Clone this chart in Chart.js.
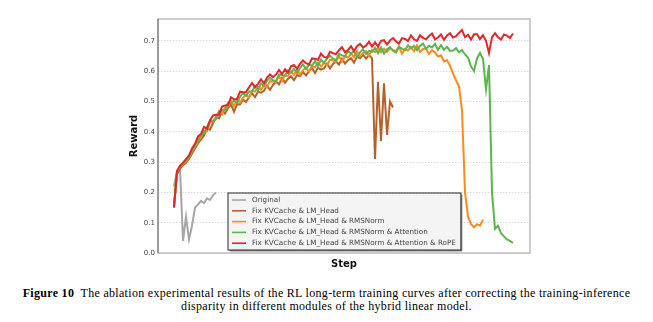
<!DOCTYPE html>
<html lang="en">
  <head>
    <meta charset="UTF-8">
    <title>Ablation: RL long-term training curves</title>
    <script src="https://cdn.jsdelivr.net/npm/chart.js"></script>
    <style>
      body { margin: 0; background: #fff; }
      #wrap { position: relative; width: 653px; height: 270px; }
      #caption {
        width: 653px; text-align: center;
        font-family: "Liberation Serif", serif; font-size: 12px; line-height: 13px;
        letter-spacing: 0.3px; color: #000; margin-top: 17px;
      }
    </style>
  </head>
  <body>
    <div id="wrap"><canvas id="myChart"></canvas></div>
    <div id="caption"><b>Figure 10</b>&nbsp; The ablation experimental results of the RL long-term training curves after correcting the training-inference<br>disparity in different modules of the hybrid linear model.</div>

    <script>
      // one logged point every STEP steps
      const STEP = 30;

      const seriesLabels = [
        "Original",
        "Fix KVCache & LM_Head",
        "Fix KVCache & LM_Head & RMSNorm",
        "Fix KVCache & LM_Head & RMSNorm & Attention",
        "Fix KVCache & LM_Head & RMSNorm & Attention & RoPE"
      ];
      const seriesColors = ["#a6a6a6", "#b5612e", "#ff8a1a", "#5ab64c", "#e2272b"];

      const original = [0.22, 0.27, 0.28, 0.04, 0.12, 0.045, 0.09, 0.15, 0.16, 0.172, 0.165, 0.18, 0.175, 0.19, 0.2];

      const fixLmHead = [
        0.15, 0.26, 0.278, 0.29, 0.298, 0.31, 0.328, 0.345, 0.362, 0.375,
        0.388, 0.411, 0.407, 0.429, 0.449, 0.444, 0.471, 0.46, 0.478, 0.49,
        0.466, 0.491, 0.49, 0.506, 0.498, 0.514, 0.527, 0.514, 0.532, 0.529,
        0.535, 0.553, 0.538, 0.555, 0.565, 0.556, 0.577, 0.562, 0.575, 0.583,
        0.57, 0.587, 0.583, 0.597, 0.586, 0.6, 0.61, 0.594, 0.611, 0.605,
        0.609, 0.625, 0.609, 0.624, 0.632, 0.622, 0.641, 0.625, 0.636, 0.643,
        0.628, 0.648, 0.642, 0.654, 0.641, 0.653, 0.642, 0.31, 0.565, 0.37,
        0.56, 0.39, 0.5, 0.48
      ];

      const fixRmsNorm = [
        0.155, 0.27, 0.283, 0.296, 0.302, 0.315, 0.335, 0.35, 0.37, 0.382,
        0.403, 0.401, 0.432, 0.436, 0.445, 0.468, 0.457, 0.48, 0.483, 0.501,
        0.484, 0.509, 0.496, 0.512, 0.523, 0.513, 0.534, 0.532, 0.549, 0.539,
        0.554, 0.547, 0.567, 0.566, 0.565, 0.584, 0.567, 0.586, 0.584, 0.598,
        0.588, 0.605, 0.589, 0.603, 0.611, 0.599, 0.617, 0.612, 0.628, 0.615,
        0.628, 0.619, 0.638, 0.635, 0.632, 0.65, 0.631, 0.649, 0.645, 0.658,
        0.646, 0.666, 0.648, 0.66, 0.666, 0.652, 0.669, 0.663, 0.677, 0.662,
        0.674, 0.664, 0.675, 0.67, 0.666, 0.682, 0.657, 0.673, 0.668, 0.679,
        0.666, 0.685, 0.664, 0.673, 0.675, 0.657, 0.669, 0.662, 0.648, 0.652,
        0.632, 0.636, 0.618, 0.592, 0.57, 0.55, 0.47, 0.2, 0.12, 0.095,
        0.085, 0.095, 0.09, 0.11
      ];

      const fixAttention = [
        0.16, 0.265, 0.285, 0.295, 0.305, 0.318, 0.338, 0.355, 0.375, 0.388,
        0.394, 0.416, 0.437, 0.434, 0.441, 0.467, 0.47, 0.472, 0.496, 0.493,
        0.503, 0.495, 0.515, 0.529, 0.518, 0.533, 0.533, 0.551, 0.536, 0.56,
        0.551, 0.568, 0.578, 0.57, 0.567, 0.589, 0.586, 0.584, 0.603, 0.596,
        0.607, 0.593, 0.61, 0.622, 0.608, 0.621, 0.618, 0.633, 0.617, 0.638,
        0.627, 0.642, 0.651, 0.641, 0.636, 0.657, 0.652, 0.649, 0.666, 0.658,
        0.667, 0.647, 0.662, 0.672, 0.656, 0.667, 0.663, 0.677, 0.659, 0.678,
        0.658, 0.672, 0.679, 0.667, 0.661, 0.68, 0.674, 0.669, 0.685, 0.675,
        0.683, 0.669, 0.683, 0.691, 0.674, 0.684, 0.678, 0.69, 0.67, 0.686,
        0.67, 0.68, 0.667, 0.668, 0.676, 0.662, 0.67, 0.655, 0.645, 0.615,
        0.6, 0.642, 0.66, 0.64, 0.54, 0.62, 0.2, 0.08, 0.09, 0.065,
        0.055, 0.045, 0.04, 0.033
      ];

      const fixRope = [
        0.15, 0.27, 0.288, 0.298, 0.31, 0.322, 0.345, 0.36, 0.385, 0.392,
        0.416, 0.41, 0.437, 0.454, 0.456, 0.456, 0.483, 0.487, 0.488, 0.514,
        0.507, 0.508, 0.532, 0.53, 0.531, 0.547, 0.561, 0.547, 0.558, 0.573,
        0.56, 0.579, 0.589, 0.58, 0.589, 0.604, 0.59, 0.606, 0.594, 0.616,
        0.62, 0.608, 0.624, 0.635, 0.626, 0.622, 0.642, 0.641, 0.637, 0.658,
        0.647, 0.644, 0.664, 0.659, 0.656, 0.669, 0.679, 0.662, 0.67, 0.682,
        0.666, 0.682, 0.69, 0.678, 0.684, 0.697, 0.681, 0.695, 0.681, 0.7,
        0.702, 0.688, 0.701, 0.709, 0.698, 0.691, 0.709, 0.706, 0.699, 0.718,
        0.705, 0.7, 0.718, 0.71, 0.705, 0.716, 0.724, 0.705, 0.711, 0.721,
        0.703, 0.718, 0.725, 0.711, 0.715, 0.726, 0.736, 0.712, 0.72, 0.704,
        0.722, 0.722, 0.706, 0.718, 0.7, 0.66, 0.712, 0.725, 0.712, 0.704,
        0.721, 0.717, 0.709, 0.724
      ];

      const yTicks = [0, 0.1, 0.2, 0.3, 0.4, 0.5, 0.6, 0.7];

      const allSeries = [original, fixLmHead, fixRmsNorm, fixAttention, fixRope];

      function toPoints(values) {
        return values.map((v, i) => ({ x: i * STEP, y: v }));
      }

      // light frame around the plot area, left spine a bit darker
      const frame = {
        id: "frame",
        beforeDatasetsDraw(chart) {
          const { ctx, chartArea: a } = chart;
          ctx.save();
          ctx.lineWidth = 1.5;
          ctx.strokeStyle = "#bdbdbd";
          ctx.strokeRect(a.left, a.top, a.right - a.left, a.bottom - a.top);
          ctx.strokeStyle = "#8a8a8a";
          ctx.beginPath();
          ctx.moveTo(a.left, a.top);
          ctx.lineTo(a.left, a.bottom);
          ctx.stroke();
          ctx.restore();
        }
      };

      // legend box inside the plot, lower left
      const legendBox = {
        id: "legendBox",
        afterDatasetsDraw(chart) {
          const { ctx, chartArea: a } = chart;
          const ds = chart.data.datasets;
          ctx.save();
          ctx.font = '7.2px "DejaVu Sans"';
          const rowH = 10.8;
          const textW = Math.max(...ds.map(d => ctx.measureText(d.label).width));
          const w = 24 + textW + 5;
          const h = ds.length * rowH + 3;
          const x0 = a.left + 70;
          const y0 = a.bottom - 3 - h;
          ctx.fillStyle = "rgba(60,60,60,0.6)";
          ctx.fillRect(x0 + 1.5, y0 + 1.5, w, h);
          ctx.fillStyle = "#f4f4f4";
          ctx.fillRect(x0, y0, w, h);
          ctx.strokeStyle = "#2a2a2a";
          ctx.lineWidth = 1;
          ctx.strokeRect(x0, y0, w, h);
          ds.forEach((d, i) => {
            const cy = y0 + 7 + i * rowH;
            ctx.strokeStyle = d.borderColor;
            ctx.lineWidth = 1.6;
            ctx.beginPath();
            ctx.moveTo(x0 + 4, cy);
            ctx.lineTo(x0 + 18, cy);
            ctx.stroke();
            ctx.fillStyle = "#444";
            ctx.textBaseline = "middle";
            ctx.fillText(d.label, x0 + 24, cy);
          });
          ctx.restore();
        }
      };

      const ctx = document.getElementById("myChart").getContext("2d");
      const chart = new Chart(ctx, {
        type: "line",
        data: {
          datasets: allSeries.map((vals, i) => ({
            label: seriesLabels[i],
            data: toPoints(vals),
            borderColor: seriesColors[i],
            borderWidth: 2,
            pointRadius: 0,
            tension: 0,
            fill: false,
            // red on top, then green, orange, brown, gray
            order: allSeries.length - 1 - i
          }))
        },
        options: {
          responsive: true,
          maintainAspectRatio: false,
          animation: false,
          events: [],
          layout: { padding: { left: 124, right: 123, top: 19, bottom: 0 } },
          plugins: {
            legend: { display: false },
            tooltip: { enabled: false }
          },
          scales: {
            x: {
              type: "linear",
              min: -160,
              max: 3560,
              ticks: { display: false },
              grid: { display: false },
              border: { display: false },
              title: {
                display: true, text: "Step", color: "#111",
                padding: { top: 0, bottom: 0 },
                font: { family: "DejaVu Sans", size: 10, weight: "bold" }
              },
              afterFit(scale) { scale.height = 17; }
            },
            y: {
              min: 0,
              max: 0.772,
              afterBuildTicks(scale) { scale.ticks = yTicks.map(v => ({ value: v })); },
              ticks: {
                padding: 3,
                color: "#444",
                font: { family: "DejaVu Sans", size: 7 },
                callback: v => v.toFixed(1)
              },
              grid: {
                drawTicks: false,
                color: "#cfcfcf",
                lineWidth: 0.8
              },
              border: { display: false, dash: [1.5, 1.5] },
              title: {
                display: true, text: "Reward", color: "#111",
                font: { family: "DejaVu Sans", size: 10, weight: "bold" }
              },
              afterFit(scale) { scale.width = 34; }
            }
          }
        },
        plugins: [frame, legendBox]
      });
    </script>
  </body>
</html>
